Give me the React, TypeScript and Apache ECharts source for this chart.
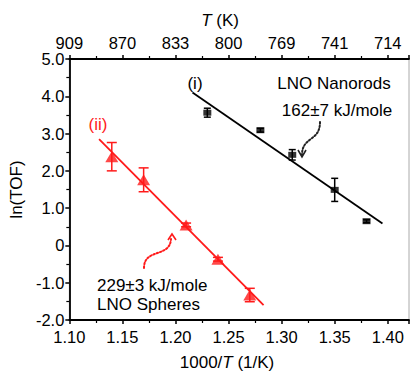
import React, { useEffect, useRef } from "react";
import * as echarts from "echarts";

const xTickValues = [1.1, 1.15, 1.2, 1.25, 1.3, 1.35, 1.4];
const bottomTickLabels = ["1.10", "1.15", "1.20", "1.25", "1.30", "1.35", "1.40"];
const topTickLabels = ["909", "870", "833", "800", "769", "741", "714"];
const yTickLabels = ["-2.0", "-1.0", "0", "1.0", "2.0", "3.0", "4.0", "5.0"];

const nanorodX = [1.23, 1.28, 1.31, 1.35, 1.38];
const nanorodY = [3.56, 3.09, 2.43, 1.49, 0.65];
const nanorodErr = [0.12, 0.05, 0.14, 0.31, 0.04];

const sphereX = [1.14, 1.17, 1.21, 1.24, 1.27];
const sphereY = [2.38, 1.76, 0.55, -0.37, -1.33];
const sphereErr = [0.38, 0.32, 0.05, 0.05, 0.18];

const nanorodFit = [
  [1.216, 4.1],
  [1.395, 0.59],
];
const sphereFit = [
  [1.128, 2.85],
  [1.283, -1.6],
];

const FONT = "Liberation Sans, Arial, Helvetica, sans-serif";
const RED = "#ff1a1a";

function tickLabel(labels: string[]) {
  return (v: number) => {
    const i = Math.round((v - 1.1) / 0.05);
    if (i >= 0 && i < labels.length && Math.abs(xTickValues[i] - v) < 1e-6) return labels[i];
    return "";
  };
}

function errorSeries(xs: number[], ys: number[], es: number[], color: string, cap: number) {
  return {
    type: "custom",
    xAxisIndex: 0,
    yAxisIndex: 0,
    silent: true,
    z: 3,
    data: xs.map((x, i) => [x, ys[i] - es[i], ys[i] + es[i]]),
    renderItem: (params: any, api: any) => {
      const lo = api.coord([api.value(0), api.value(1)]);
      const hi = api.coord([api.value(0), api.value(2)]);
      const st = { stroke: color, lineWidth: 1.5 };
      return {
        type: "group",
        children: [
          { type: "line", shape: { x1: lo[0], y1: lo[1], x2: hi[0], y2: hi[1] }, style: st },
          { type: "line", shape: { x1: lo[0] - cap, y1: lo[1], x2: lo[0] + cap, y2: lo[1] }, style: st },
          { type: "line", shape: { x1: hi[0] - cap, y1: hi[1], x2: hi[0] + cap, y2: hi[1] }, style: st },
        ],
      };
    },
  };
}

export default function App() {
  const ref = useRef<HTMLDivElement>(null);
  useEffect(() => {
    const chart = echarts.init(ref.current!, null, { renderer: "svg" });
    const axisLine = { show: true, onZero: false, lineStyle: { color: "#000", width: 1.8 } };
    const tick = { show: true, inside: false, length: 4, lineStyle: { color: "#000", width: 1.5 } };
    const minor = { show: true, splitNumber: 2, length: 3, lineStyle: { color: "#000", width: 1.2 } };
    const labelStyle = { color: "#000", fontSize: 16.5, fontFamily: FONT };
    chart.setOption({
      animation: false,
      grid: {
        left: 62,
        right: 2,
        top: 59,
        bottom: 52,
        show: true,
        borderColor: "#aaa",
        borderWidth: 1,
        backgroundColor: "#fff",
      },
      xAxis: [
        {
          type: "value",
          min: 1.1,
          max: 1.42,
          interval: 0.05,
          position: "bottom",
          axisLine,
          axisTick: tick,
          minorTick: minor,
          splitLine: { show: false },
          axisLabel: { ...labelStyle, margin: 8, formatter: tickLabel(bottomTickLabels), showMaxLabel: false },
        },
        {
          type: "value",
          min: 1.1,
          max: 1.42,
          interval: 0.05,
          position: "top",
          axisLine,
          axisTick: tick,
          minorTick: minor,
          splitLine: { show: false },
          axisLabel: { ...labelStyle, margin: 8, formatter: tickLabel(topTickLabels), showMaxLabel: false },
        },
      ],
      yAxis: [
        {
          type: "value",
          min: -2,
          max: 5,
          interval: 1,
          axisLine,
          axisTick: tick,
          minorTick: minor,
          splitLine: { show: false },
          axisLabel: {
            ...labelStyle,
            margin: 5,
            formatter: (v: number) => yTickLabels[Math.round(v) + 2] ?? "",
          },
          name: "ln(TOF)",
          nameLocation: "middle",
          nameGap: 38,
          nameTextStyle: { color: "#000", fontSize: 17, fontFamily: FONT },
        },
      ],
      series: [
        {
          type: "line",
          data: nanorodFit,
          showSymbol: false,
          lineStyle: { color: "#000", width: 1.8 },
          silent: true,
          z: 2,
        },
        {
          type: "line",
          data: sphereFit,
          showSymbol: false,
          lineStyle: { color: RED, width: 1.8 },
          silent: true,
          z: 2,
        },
        errorSeries(nanorodX, nanorodY, nanorodErr, "#000", 3.5),
        errorSeries(sphereX, sphereY, sphereErr, RED, 5),
        {
          type: "scatter",
          data: nanorodX.map((x, i) => [x, nanorodY[i]]),
          symbol: "rect",
          symbolSize: [8, 6],
          itemStyle: { color: "#000" },
          z: 4,
        },
        {
          type: "scatter",
          data: sphereX.map((x, i) => [x, sphereY[i]]),
          symbol: "triangle",
          symbolSize: [13, 11],
          itemStyle: { color: RED },
          z: 4,
        },
      ],
      graphic: [
        {
          type: "text",
          x: 220,
          y: 20,
          style: {
            text: "{i|T} (K)",
            align: "center",
            verticalAlign: "middle",
            fill: "#000",
            font: `17px ${FONT}`,
            rich: { i: { fontStyle: "italic", fontSize: 17, fontFamily: FONT, fill: "#000" } },
          },
        },
        {
          type: "text",
          x: 227,
          y: 362,
          style: {
            text: "1000/{i|T} (1/K)",
            align: "center",
            verticalAlign: "middle",
            fill: "#000",
            font: `17px ${FONT}`,
            rich: { i: { fontStyle: "italic", fontSize: 17, fontFamily: FONT, fill: "#000" } },
          },
        },
        {
          type: "text",
          x: 195,
          y: 83,
          style: { text: "(i)", align: "center", verticalAlign: "middle", fill: "#000", font: `17px ${FONT}` },
        },
        {
          type: "text",
          x: 98,
          y: 124,
          style: { text: "(ii)", align: "center", verticalAlign: "middle", fill: RED, font: `17px ${FONT}` },
        },
        {
          type: "text",
          x: 334,
          y: 83,
          style: { text: "LNO Nanorods", align: "center", verticalAlign: "middle", fill: "#000", font: `17px ${FONT}` },
        },
        {
          type: "text",
          x: 337,
          y: 110,
          style: { text: "162±7 kJ/mole", align: "center", verticalAlign: "middle", fill: "#000", font: `17px ${FONT}` },
        },
        {
          type: "text",
          x: 97,
          y: 285,
          style: { text: "229±3 kJ/mole", align: "left", verticalAlign: "middle", fill: "#000", font: `17px ${FONT}` },
        },
        {
          type: "text",
          x: 97,
          y: 304,
          style: { text: "LNO Spheres", align: "left", verticalAlign: "middle", fill: "#000", font: `17px ${FONT}` },
        },
        {
          type: "bezierCurve",
          shape: { x1: 320, y1: 122, cpx1: 320, cpy1: 142, cpx2: 302, cpy2: 136, x2: 302, y2: 155 },
          style: { stroke: "#222", lineWidth: 2, lineDash: [1.5, 2], lineCap: "round", fill: null },
        },
        {
          type: "polyline",
          shape: { points: [[298, 150], [302, 157], [306, 150]] },
          style: { stroke: "#222", lineWidth: 1.6, fill: null },
        },
        {
          type: "bezierCurve",
          shape: { x1: 144, y1: 268, cpx1: 144, cpy1: 248, cpx2: 170, cpy2: 258, x2: 171, y2: 239 },
          style: { stroke: RED, lineWidth: 2, lineDash: [1.5, 2], lineCap: "round", fill: null },
        },
        {
          type: "polyline",
          shape: { points: [[168, 240], [172, 234], [176, 240]] },
          style: { stroke: RED, lineWidth: 1.6, fill: null },
        },
      ],
    });
    return () => chart.dispose();
  }, []);
  return <div ref={ref} style={{ width: 411, height: 372, position: "absolute", left: 0, top: 0 }} />;
}
